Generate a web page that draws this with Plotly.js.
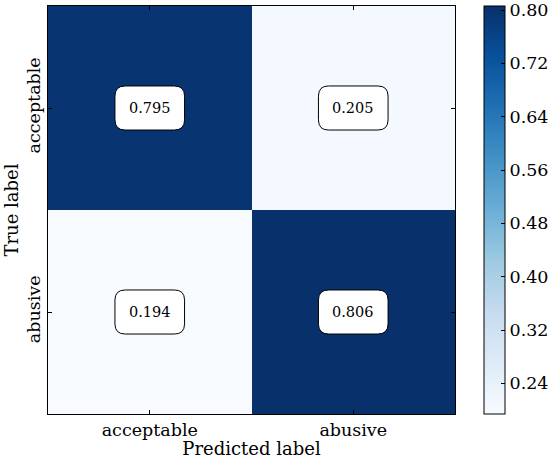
<!DOCTYPE html>
<html>
<head>
<meta charset="utf-8">
<script src="https://cdn.plot.ly/plotly-3.0.1.min.js"></script>
<style>
  html, body { margin: 0; padding: 0; background: #ffffff; }
  #chart { width: 551px; height: 459px; }
</style>
</head>
<body>
<div id="chart"></div>
<script>
// Class names shown on both axes
const labels = ['acceptable', 'abusive'];

// Normalised confusion matrix, rows = true label, columns = predicted label
const rowAcceptable = [0.795, 0.205];
const rowAbusive = [0.194, 0.806];
const matrix = [rowAcceptable, rowAbusive];

// Colour bar tick values
const colorbarTicks = [0.24, 0.32, 0.40, 0.48, 0.56, 0.64, 0.72, 0.80];

// matplotlib "Blues" colour map
const blues = [
  [0.0, '#f7fbff'], [0.125, '#deebf7'], [0.25, '#c6dbef'],
  [0.375, '#9ecae1'], [0.5, '#6baed6'], [0.625, '#4292c6'],
  [0.75, '#2171b5'], [0.875, '#08519c'], [1.0, '#08306b']
];

const idx = labels.map((_, i) => i);
const flat = matrix.flat();
const zmin = Math.min(...flat);
const zmax = Math.max(...flat);

const font = 'DejaVu Serif, Liberation Serif, serif';
const tickSize = 17.5;
const titleSize = 18;

// Rounded white box behind each cell value, in data units
function roundedBox(cx, cy, hw, hh, r) {
  const x0 = cx - hw, x1 = cx + hw, y0 = cy - hh, y1 = cy + hh;
  return 'M ' + (x0 + r) + ' ' + y0 +
    ' L ' + (x1 - r) + ' ' + y0 +
    ' Q ' + x1 + ' ' + y0 + ' ' + x1 + ' ' + (y0 + r) +
    ' L ' + x1 + ' ' + (y1 - r) +
    ' Q ' + x1 + ' ' + y1 + ' ' + (x1 - r) + ' ' + y1 +
    ' L ' + (x0 + r) + ' ' + y1 +
    ' Q ' + x0 + ' ' + y1 + ' ' + x0 + ' ' + (y1 - r) +
    ' L ' + x0 + ' ' + (y0 + r) +
    ' Q ' + x0 + ' ' + y0 + ' ' + (x0 + r) + ' ' + y0 + ' Z';
}

const shapes = [];
const annotations = [];
matrix.forEach((row, i) => {
  row.forEach((v, j) => {
    shapes.push({
      type: 'path', xref: 'x', yref: 'y', layer: 'above',
      path: roundedBox(j, i, 0.171, 0.108, 0.05),
      fillcolor: '#ffffff',
      line: { color: '#000000', width: 1 }
    });
    annotations.push({
      x: j, y: i, xref: 'x', yref: 'y',
      text: v.toFixed(3), showarrow: false,
      font: { family: font, size: 14.5, color: '#000000' }
    });
  });
});

const trace = {
  type: 'heatmap',
  x: idx, y: idx, z: matrix,
  zmin: zmin, zmax: zmax,
  colorscale: blues,
  hoverinfo: 'skip',
  colorbar: {
    xref: 'container', x: 484 / 551, xanchor: 'left', xpad: 0,
    y: 0.5, yanchor: 'middle', ypad: 0,
    len: 1, lenmode: 'fraction',
    thickness: 21, thicknessmode: 'pixels',
    outlinewidth: 1, outlinecolor: '#000000',
    tickmode: 'array', tickvals: colorbarTicks,
    ticktext: colorbarTicks.map(t => t.toFixed(2)),
    ticks: 'inside', ticklen: 4, tickcolor: '#000000', tickwidth: 1,
    tickfont: { family: font, size: tickSize, color: '#000000' }
  }
};

const axisCommon = {
  tickmode: 'array', tickvals: idx, ticktext: labels,
  ticks: 'inside', ticklen: 4, tickcolor: '#000000', tickwidth: 1,
  showline: true, linecolor: '#000000', linewidth: 1, mirror: 'allticks',
  showgrid: false, zeroline: false, automargin: false,
  tickfont: { family: font, size: tickSize, color: '#000000' }
};

const layout = {
  width: 551, height: 459,
  margin: { l: 48, r: 96, t: 6, b: 45, autoexpand: false },
  paper_bgcolor: '#ffffff', plot_bgcolor: '#ffffff',
  font: { family: font, color: '#000000' },
  xaxis: Object.assign({}, axisCommon, {
    range: [-0.5, 1.5],
    title: { text: 'Predicted label', standoff: 0, font: { family: font, size: titleSize, color: '#000000' } }
  }),
  yaxis: Object.assign({}, axisCommon, {
    range: [1.5, -0.5],
    tickangle: -90,
    title: { text: 'True label', standoff: 0, font: { family: font, size: titleSize, color: '#000000' } }
  }),
  shapes: shapes,
  annotations: annotations,
  showlegend: false
};

Plotly.newPlot('chart', [trace], layout, { displayModeBar: false, staticPlot: true });
</script>
</body>
</html>
